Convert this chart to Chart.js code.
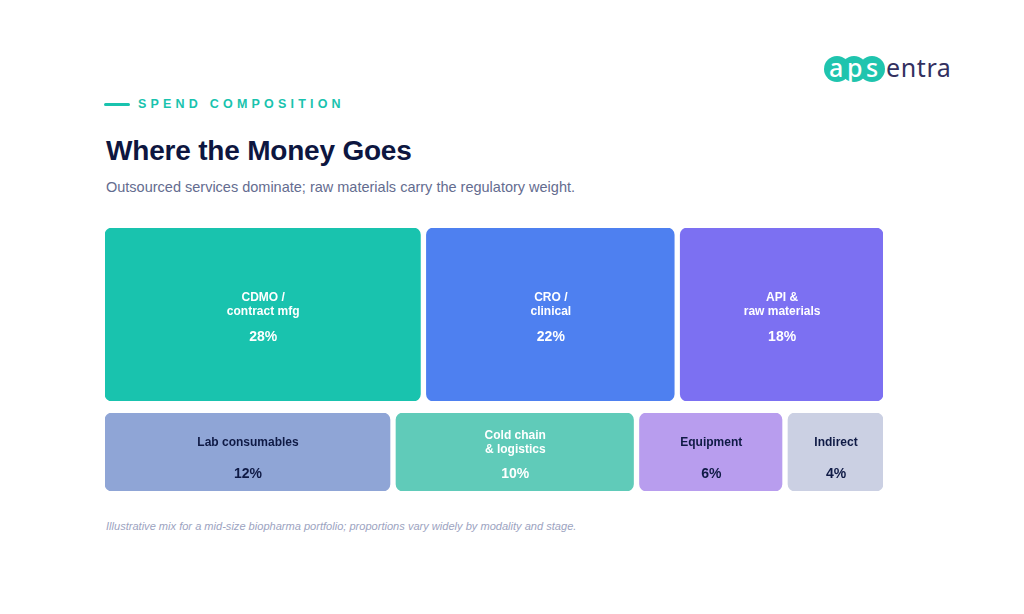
<!DOCTYPE html>
<html>
<head>
<meta charset="utf-8">
<title>Where the Money Goes</title>
<script src="https://cdn.jsdelivr.net/npm/chart.js@4"></script>
<style>
  html, body { margin: 0; background: #fff; }
  body { width: 1024px; height: 614px; position: relative; overflow: hidden; font-family: "Liberation Sans", sans-serif; }
  .abs { position: absolute; white-space: nowrap; }
  #dash { left: 104px; top: 103px; width: 26px; height: 3px; border-radius: 2px; background: #19C3AE; }
  #kicker { left: 138px; top: 97px; font-size: 12.5px; line-height: 14px; font-weight: 700; letter-spacing: 4.2px; color: #19C3AE; }
  #title { left: 106px; top: 134px; font-size: 28px; line-height: 34px; font-weight: 700; letter-spacing: -0.2px; color: #0D1640; }
  #sub { left: 106px; top: 179px; font-size: 14.5px; line-height: 17px; color: #646C8F; }
  #note { left: 106px; top: 519px; font-size: 11.07px; line-height: 14px; font-style: italic; color: #9CA3BF; }
  canvas { position: absolute; left: 105px; }
  #topRow { top: 228px; }
  #bottomRow { top: 413px; }
  .dot { position: absolute; top: 56px; width: 26px; height: 26px; border-radius: 50%; background: #1FC4AE; }
  #aps { left: 829px; top: 53px; font-family: "Noto Sans", sans-serif; font-size: 25px; line-height: 29px; font-weight: 500; letter-spacing: 3.6px; color: #fff; }
  #entra { left: 886px; top: 53px; font-family: "Noto Sans", sans-serif; font-size: 25px; line-height: 29px; letter-spacing: 0.6px; color: #33305F; }
</style>
</head>
<body>
<div class="dot" style="left:824px"></div>
<div class="dot" style="left:841px"></div>
<div class="dot" style="left:859px"></div>
<div class="abs" id="aps">aps</div>
<div class="abs" id="entra">entra</div>

<div class="abs" id="dash"></div>
<div class="abs" id="kicker">SPEND COMPOSITION</div>
<div class="abs" id="title">Where the Money Goes</div>
<div class="abs" id="sub">Outsourced services dominate; raw materials carry the regulatory weight.</div>

<canvas id="topRow" width="778" height="173"></canvas>
<canvas id="bottomRow" width="778" height="78"></canvas>

<div class="abs" id="note">Illustrative mix for a mid-size biopharma portfolio; proportions vary widely by modality and stage.</div>

<script>
const topLabels = [['CDMO /', 'contract mfg'], ['CRO /', 'clinical'], ['API &', 'raw materials']];
const topValues = [28, 22, 18];
const topColors = ['#19C3AE', '#4E80F0', '#7C70F2'];
const topText = ['#ffffff', '#ffffff', '#ffffff'];

const bottomLabels = [['Lab consumables'], ['Cold chain', '& logistics'], ['Equipment'], ['Indirect']];
const bottomValues = [12, 10, 6, 4];
const bottomColors = ['#8FA5D6', '#60CBB9', '#B89DEE', '#CBD0E3'];
const bottomText = ['#0F1A45', '#ffffff', '#0F1A45', '#0F1A45'];

const GAP = 6; // px between tiles

// draws the name and share in the middle of each tile
const tileLabels = {
  id: 'tileLabels',
  afterDatasetsDraw(chart) {
    const c = chart.ctx;
    c.save();
    c.textAlign = 'center';
    c.textBaseline = 'middle';
    chart.data.datasets.forEach((ds, i) => {
      const bar = chart.getDatasetMeta(i).data[0];
      const x = (bar.x + bar.base) / 2 + 0.5;
      c.fillStyle = ds.textColor;
      c.font = '700 12px "Liberation Sans"';
      ds.lines.forEach((line, j) => {
        c.fillText(line, x, bar.y - 9.5 + (j - (ds.lines.length - 1) / 2) * 14);
      });
      c.font = '700 14px "Liberation Sans"';
      c.fillText(ds.value + '%', x, bar.y + 22.5);
    });
    c.restore();
  }
};

function drawRow(id, labels, values, colors, text) {
  const canvas = document.getElementById(id);
  const sum = values.reduce((a, b) => a + b, 0);
  // tiles share the width left over after the gaps, so find the gap in value units
  const gapUnits = GAP * sum / (canvas.width - GAP * (values.length - 1));
  let start = 0;
  const datasets = values.map((v, i) => {
    const ds = {
      label: labels[i].join(' '),
      lines: labels[i],
      value: v,
      textColor: text[i],
      data: [[start, start + v]],
      backgroundColor: colors[i],
      borderRadius: 7,
      borderSkipped: false,
      barPercentage: 1,
      categoryPercentage: 1
    };
    start += v + gapUnits;
    return ds;
  });
  new Chart(canvas, {
    type: 'bar',
    data: { labels: [id], datasets },
    options: {
      indexAxis: 'y',
      responsive: false,
      animation: false,
      layout: { padding: 0 },
      datasets: { bar: { grouped: false } },
      scales: {
        x: { display: false, min: 0, max: start - gapUnits },
        y: { display: false }
      },
      plugins: { legend: { display: false }, tooltip: { enabled: false } }
    },
    plugins: [tileLabels]
  });
}

drawRow('topRow', topLabels, topValues, topColors, topText);
drawRow('bottomRow', bottomLabels, bottomValues, bottomColors, bottomText);
</script>
</body>
</html>
